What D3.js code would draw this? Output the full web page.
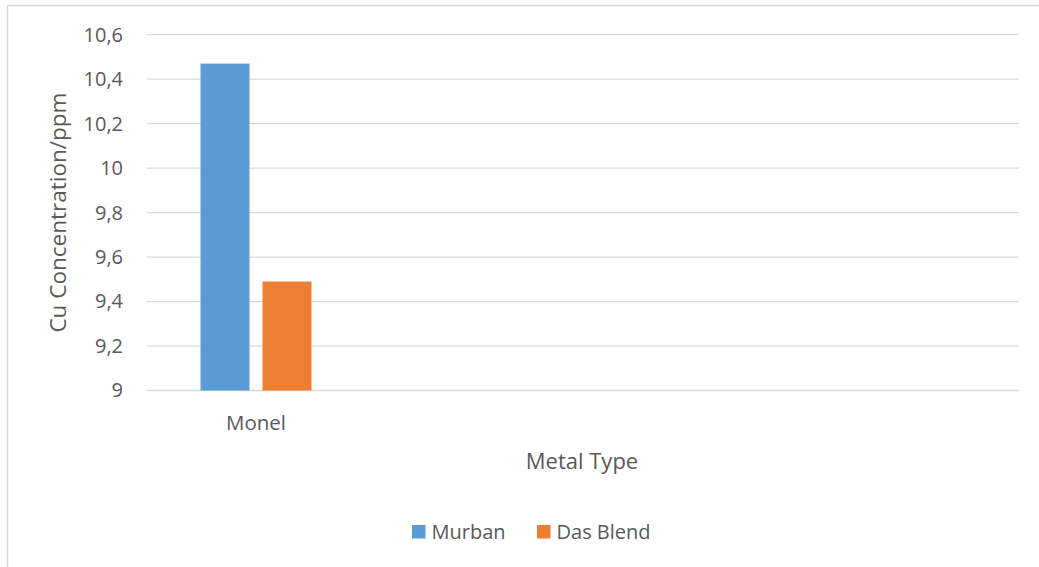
<!DOCTYPE html>
<html>
<head>
<meta charset="utf-8">
<script src="https://cdn.jsdelivr.net/npm/d3@7"></script>
<style>
  html, body { margin: 0; padding: 0; background: #fff; }
  svg { display: block; font-family: "Open Sans", sans-serif; }
</style>
</head>
<body>
<svg id="chart" width="1039" height="567"></svg>
<script>
const categories = ["Monel"];
const categorySlots = 4;            // the axis holds four category slots; only "Monel" is labelled
const seriesNames = ["Murban", "Das Blend"];
const murbanValues = [10.47];
const dasBlendValues = [9.49];
const seriesColors = ["#5B9BD5", "#ED7D31"];
const yTickValues = [9, 9.2, 9.4, 9.6, 9.8, 10, 10.2, 10.4, 10.6];
const yTitle = "Cu Concentration/ppm";
const xTitle = "Metal Type";

const seriesValues = [murbanValues, dasBlendValues];
const svg = d3.select("#chart");
const W = 1039, H = 567;
const plot = { left: 147, right: 1019, top: 34.7, bottom: 390.5 };

const locale = d3.formatLocale({ decimal: ",", thousands: ".", grouping: [3], currency: ["", ""] });
const fmt = locale.format("~g");

// Outer chart border (partially cropped)
svg.append("path")
  .attr("d", `M7.5,${H} L7.5,5.5 L${W},5.5`)
  .attr("fill", "none").attr("stroke", "#d9d9d9").attr("stroke-width", 1.5);

const y = d3.scaleLinear().domain([9, 10.6]).range([plot.bottom, plot.top]);
const x = d3.scaleBand().domain(d3.range(categorySlots)).range([plot.left, plot.right]);
const groupW = 111;
const xSub = d3.scaleBand().domain(seriesNames)
  .range([(x.bandwidth() - groupW) / 2, (x.bandwidth() + groupW) / 2])
  .paddingInner(0.21);

// Gridlines
svg.append("g").selectAll("line").data(yTickValues).join("line")
  .attr("x1", plot.left).attr("x2", plot.right)
  .attr("y1", d => y(d)).attr("y2", d => y(d))
  .attr("stroke", "#d9d9d9").attr("stroke-width", 1.3);

// Y axis labels
const yAxis = d3.axisLeft(y).tickValues(yTickValues).tickFormat(fmt).tickSize(0).tickPadding(0);
const gy = svg.append("g").attr("transform", `translate(123,0)`).call(yAxis);
gy.select(".domain").remove();
gy.selectAll("text").attr("fill", "#595959").style("font-size", "20px")
  .style("font-family", "'Open Sans', sans-serif");

// Bars
const bars = svg.append("g");
categories.forEach((cat, ci) => {
  seriesNames.forEach((s, si) => {
    const v = seriesValues[si][ci];
    bars.append("rect")
      .attr("x", x(ci) + xSub(s))
      .attr("width", xSub.bandwidth())
      .attr("y", y(v))
      .attr("height", y(9) - y(v))
      .attr("fill", seriesColors[si]);
  });
});

// X axis baseline + labels
const xAxis = d3.axisBottom(x).tickFormat(i => categories[i] || "").tickSize(0).tickPadding(0);
const gx = svg.append("g").attr("transform", `translate(0,${plot.bottom})`).call(xAxis);
gx.select(".domain").remove();
gx.selectAll("text").attr("fill", "#595959").style("font-size", "20.5px")
  .style("font-family", "'Open Sans', sans-serif")
  .attr("dy", null).attr("y", 39.5);

// Axis titles
svg.append("text")
  .attr("transform", `translate(66,${(plot.top + plot.bottom) / 2}) rotate(-90)`)
  .attr("text-anchor", "middle")
  .attr("fill", "#595959").style("font-size", "22.5px")
  .text(yTitle);

svg.append("text")
  .attr("x", (plot.left + plot.right) / 2 - 1).attr("y", 469)
  .attr("text-anchor", "middle")
  .attr("fill", "#595959").style("font-size", "22px")
  .text(xTitle);

// Legend
const legendX = [412, 537];
const lg = svg.append("g");
seriesNames.forEach((s, i) => {
  lg.append("rect").attr("x", legendX[i]).attr("y", 525).attr("width", 13.5).attr("height", 13.5)
    .attr("fill", seriesColors[i]);
  lg.append("text").attr("x", legendX[i] + 19.5).attr("y", 538.5)
    .attr("fill", "#595959").style("font-size", "20px").text(s);
});
</script>
</body>
</html>
